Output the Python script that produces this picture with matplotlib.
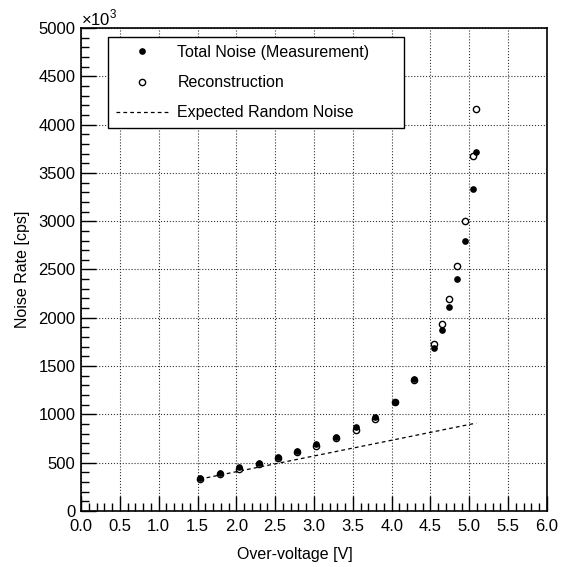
import numpy as np
import matplotlib.pyplot as plt
from matplotlib.ticker import MultipleLocator, FormatStrFormatter

plt.rcParams['font.family'] = ['Liberation Sans', 'DejaVu Sans']
plt.rcParams['mathtext.fontset'] = 'custom'
plt.rcParams['mathtext.rm'] = 'Liberation Sans'

# Over-voltage [V]
voltage = [1.53, 1.79, 2.04, 2.29, 2.54, 2.78, 3.03, 3.28, 3.54, 3.79,
           4.04, 4.29, 4.54, 4.65, 4.74, 4.84, 4.95, 5.05, 5.09]
# Total noise (measurement) [x1e3 cps]
total_noise = [338, 390, 452, 500, 562, 624, 694, 769, 866, 975,
               1131, 1363, 1687, 1877, 2108, 2398, 2798, 3333, 3720]
# Reconstruction [x1e3 cps]
reconstruction = [335, 386, 432, 486, 549, 611, 676, 756, 838, 955,
                  1125, 1360, 1729, 1936, 2195, 2533, 2999, 3678, 4158]
# Expected random noise (line end points)
expected_v = [1.53, 5.09]
expected_rate = [330, 910]

fig = plt.figure(figsize=(5.67, 5.67), dpi=100)
ax = fig.add_axes([0.1429, 0.0988, 0.8218, 0.8518])

# filled points on top of the open ones
ax.plot(voltage, total_noise, 'o', color='black', markersize=3.8, zorder=4,
        label='Total Noise (Measurement)')
ax.plot(voltage, reconstruction, 'o', color='black', markerfacecolor='white',
        markeredgewidth=1.0, markersize=4.5, zorder=3, label='Reconstruction')
ax.plot(expected_v, expected_rate, '--', color='black', linewidth=0.9, dashes=(3, 2.5),
        label='Expected Random Noise')

ax.set_xlim(0, 6)
ax.set_ylim(0, 5000)
ax.xaxis.set_major_locator(MultipleLocator(0.5))
ax.xaxis.set_minor_locator(MultipleLocator(0.1))
ax.xaxis.set_major_formatter(FormatStrFormatter('%.1f'))
ax.yaxis.set_major_locator(MultipleLocator(500))
ax.yaxis.set_minor_locator(MultipleLocator(100))
ax.tick_params(which='both', direction='in', labelsize=12, width=1.0)
ax.tick_params(which='major', length=11)
ax.tick_params(which='minor', length=6)
ax.tick_params(axis='x', pad=6)
ax.tick_params(axis='y', pad=4)

ax.grid(True, which='major', linestyle=':', color='black', linewidth=0.8, alpha=0.8)
for s in ax.spines.values():
    s.set_linewidth(1.2)

ax.text(0.0, 1.0, r'$\times10^{3}$', transform=ax.transAxes, fontsize=12, va='bottom', ha='left')

ax.set_xlabel('Over-voltage [V]', fontsize=11.5)
ax.xaxis.set_label_coords(0.46, -0.075)
ax.set_ylabel('Noise Rate [cps]', fontsize=11.5, labelpad=6)

leg = ax.legend(loc='upper left',
                bbox_to_anchor=(108 / 567, 1 - 130 / 567, (404 - 108) / 567, (130 - 37) / 567),
                bbox_transform=fig.transFigure, mode='expand', borderaxespad=0,
                fontsize=11.5, fancybox=False, edgecolor='black', framealpha=1,
                handlelength=3.25, handletextpad=0.6, labelspacing=0.95, borderpad=0.5,
                numpoints=1)
leg.get_frame().set_linewidth(1.0)

fig.savefig('out.png', dpi=100, facecolor='white')
